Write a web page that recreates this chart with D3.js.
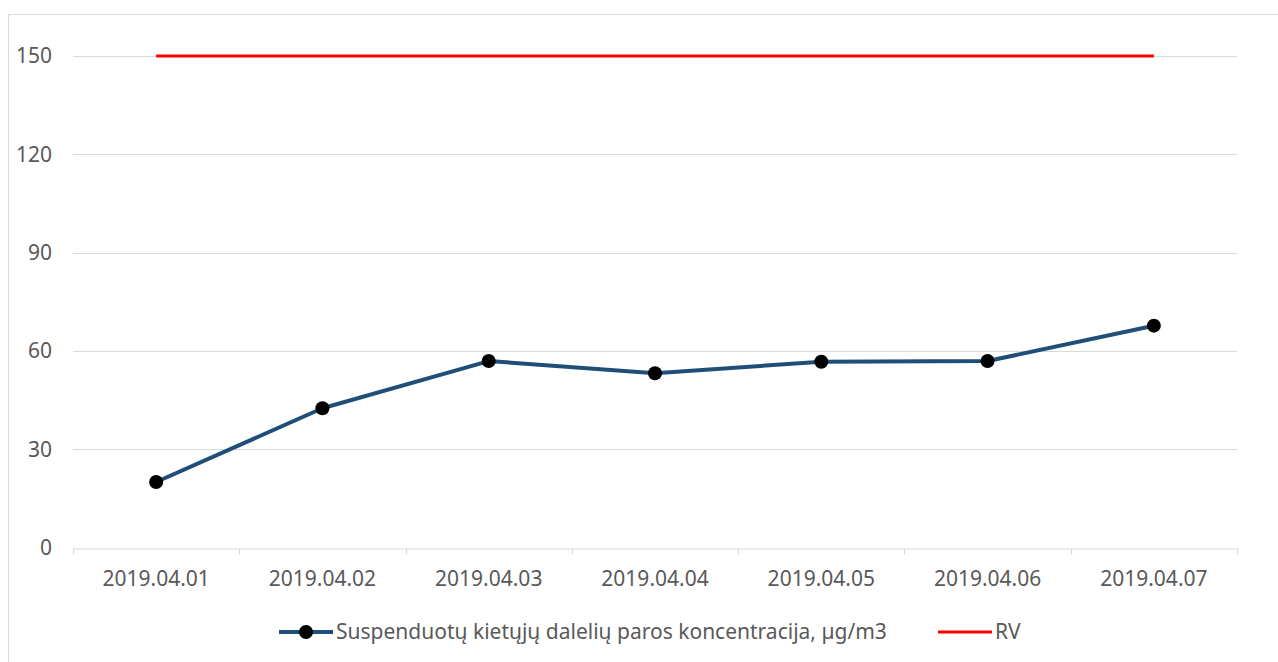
<!DOCTYPE html>
<html lang="lt">
<head>
<meta charset="UTF-8">
<title>Suspenduotų kietųjų dalelių paros koncentracija</title>
<script src="https://d3js.org/d3.v7.min.js"></script>
<style>
  body { margin: 0; background: #fff; }
  svg text { font-family: "Noto Sans", sans-serif; fill: #595959; }
</style>
</head>
<body>
<svg id="chart" width="1278" height="662"></svg>
<script>
const dates = ["2019.04.01", "2019.04.02", "2019.04.03", "2019.04.04", "2019.04.05", "2019.04.06", "2019.04.07"];
const concentration = [20, 42.5, 56.9, 53.2, 56.7, 56.9, 67.7];
const limitValue = [150, 150, 150, 150, 150, 150, 150];
const yTicks = [0, 30, 60, 90, 120, 150];
const seriesName = "Suspenduotų kietųjų dalelių paros koncentracija, µg/m3";
const limitName = "RV";

const svg = d3.select("#chart");
const margin = { left: 73, right: 41, top: 56, bottom: 114.5 };
const width = 1278, height = 662;
const fontSize = 21;

// chart frame
svg.append("rect")
    .attr("x", 8.5).attr("y", 14.5)
    .attr("width", 1300).attr("height", 700)
    .attr("fill", "none").attr("stroke", "#d9d9d9");

const x = d3.scaleBand()
    .domain(dates)
    .range([margin.left, width - margin.right])
    .padding(0);

const y = d3.scaleLinear()
    .domain([0, 150])
    .range([height - margin.bottom, margin.top]);

const cx = d => x(d) + x.bandwidth() / 2;

// gridlines
svg.append("g")
    .selectAll("line")
    .data(yTicks.filter(t => t > 0))
    .join("line")
    .attr("x1", margin.left).attr("x2", width - margin.right)
    .attr("y1", d => Math.round(y(d)) + 0.5).attr("y2", d => Math.round(y(d)) + 0.5)
    .attr("stroke", "#d9d9d9").attr("stroke-width", 1);

// y labels
svg.append("g")
    .selectAll("text")
    .data(yTicks)
    .join("text")
    .attr("x", 52)
    .attr("y", d => y(d))
    .attr("dy", "0.35em")
    .attr("text-anchor", "end")
    .attr("font-size", fontSize)
    .text(d => d);

// x axis
const xAxis = d3.axisBottom(x).tickSize(0).tickFormat(d => d);
const gx = svg.append("g")
    .attr("transform", `translate(0,${Math.round(y(0)) + 0.5})`)
    .call(xAxis);
gx.select(".domain").attr("stroke", "#d9d9d9");
gx.selectAll("text")
    .attr("font-size", fontSize)
    .attr("dy", 0)
    .attr("y", 37)
    .style("font-family", "'Noto Sans', sans-serif")
    .attr("fill", "#595959");

// category boundary ticks
gx.append("g")
    .selectAll("line")
    .data(dates.concat(["end"]))
    .join("line")
    .attr("x1", (d, i) => Math.round(margin.left + i * x.bandwidth()) + 0.5)
    .attr("x2", (d, i) => Math.round(margin.left + i * x.bandwidth()) + 0.5)
    .attr("y1", 0).attr("y2", 6)
    .attr("stroke", "#d9d9d9");

// RV line
svg.append("path")
    .datum(limitValue)
    .attr("fill", "none")
    .attr("stroke", "#ff0000")
    .attr("stroke-width", 3)
    .attr("d", d3.line().x((d, i) => cx(dates[i])).y(d => y(d)));

// series line
svg.append("path")
    .datum(concentration)
    .attr("fill", "none")
    .attr("stroke", "#1f4e79")
    .attr("stroke-width", 4)
    .attr("stroke-linejoin", "round")
    .attr("d", d3.line().x((d, i) => cx(dates[i])).y(d => y(d)));

svg.append("g")
    .selectAll("circle")
    .data(concentration)
    .join("circle")
    .attr("cx", (d, i) => cx(dates[i]))
    .attr("cy", d => y(d))
    .attr("r", 7)
    .attr("fill", "#000");

// legend
const legY = 632;
const leg = svg.append("g");
leg.append("line")
    .attr("x1", 279).attr("x2", 333).attr("y1", legY).attr("y2", legY)
    .attr("stroke", "#1f4e79").attr("stroke-width", 4);
leg.append("circle").attr("cx", 306).attr("cy", legY).attr("r", 7).attr("fill", "#000");
leg.append("text")
    .attr("x", 336).attr("y", legY).attr("dy", "0.35em")
    .attr("font-size", fontSize)
    .text(seriesName);
leg.append("line")
    .attr("x1", 938).attr("x2", 992).attr("y1", legY).attr("y2", legY)
    .attr("stroke", "#ff0000").attr("stroke-width", 3);
leg.append("text")
    .attr("x", 995).attr("y", legY).attr("dy", "0.35em")
    .attr("font-size", fontSize)
    .text(limitName);
</script>
</body>
</html>
